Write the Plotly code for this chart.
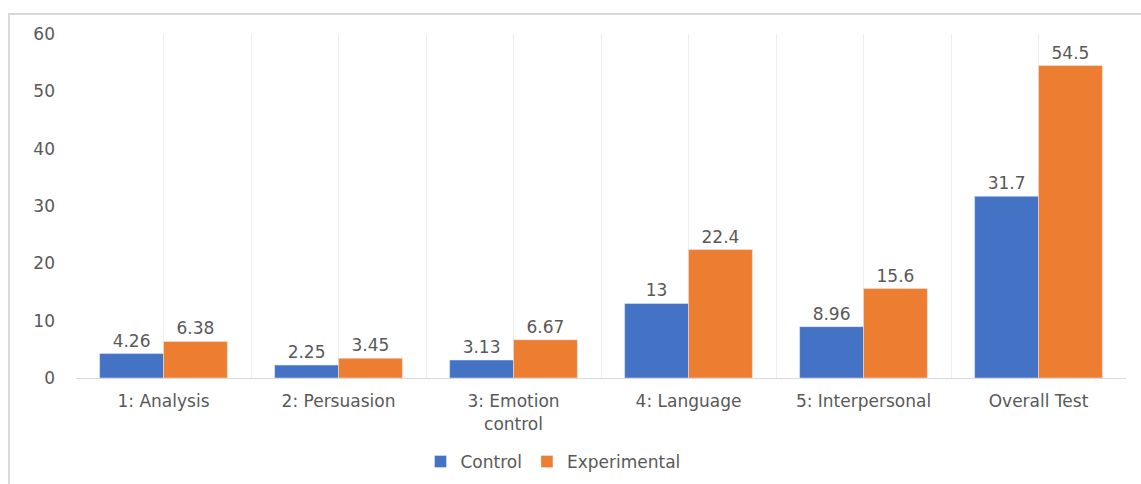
import plotly.graph_objects as go

categories = ["1: Analysis", "2: Persuasion", "3: Emotion<br>control", "4: Language", "5: Interpersonal", "Overall Test"]
control = [4.26, 2.25, 3.13, 13, 8.96, 31.7]
experimental = [6.38, 3.45, 6.67, 22.4, 15.6, 54.5]
control_labels = ["4.26", "2.25", "3.13", "13", "8.96", "31.7"]
experimental_labels = ["6.38", "3.45", "6.67", "22.4", "15.6", "54.5"]
y_ticks = [0, 10, 20, 30, 40, 50, 60]

xpos = list(range(len(categories)))
FONT = "DejaVu Sans"
GREY = "#595959"
FS = 17

fig = go.Figure()
fig.add_trace(go.Bar(x=xpos, y=control, name="Control", marker_color="#4472C4",
                     text=control_labels, textposition="outside", cliponaxis=False,
                     textfont=dict(color=GREY, size=FS, family=FONT)))
fig.add_trace(go.Bar(x=xpos, y=experimental, name="Experimental", marker_color="#ED7D31",
                     text=experimental_labels, textposition="outside", cliponaxis=False,
                     textfont=dict(color=GREY, size=FS, family=FONT)))

L, R, T, B = 76, 15, 34, 106
W, H = 1141, 484
pw = W - L - R
ph = H - T - B

fig.update_layout(
    width=W, height=H,
    margin=dict(l=L, r=R, t=T, b=B, autoexpand=False),
    paper_bgcolor="white", plot_bgcolor="white",
    barmode="group", bargap=0.27, bargroupgap=0,
    font=dict(family=FONT, color=GREY, size=FS),
    showlegend=True,
    legend=dict(orientation="h", x=(553 - L) / pw, xanchor="center",
                y=(H - B - 462) / ph, yanchor="middle",
                font=dict(size=FS, color=GREY, family=FONT), traceorder="normal"),
    xaxis=dict(tickmode="array", tickvals=xpos, ticktext=categories,
               range=[-0.5, len(categories) - 0.5], showgrid=True, gridcolor="#EEEEEE",
               gridwidth=1, zeroline=False, showline=True, linecolor="#D9D9D9",
               ticks="", ticklabelstandoff=8, tickfont=dict(size=FS, color=GREY, family=FONT),
               minor=dict(tickvals=[i - 0.5 for i in range(len(categories) + 1)],
                          showgrid=True, gridcolor="#EEEEEE", gridwidth=1, ticks="")),
    yaxis=dict(range=[0, 60], tickvals=y_ticks, showgrid=False, zeroline=False,
               showline=False, ticks="", ticklabelstandoff=20,
               tickfont=dict(size=FS, color=GREY, family=FONT)),
)

# outer chart border
fig.add_shape(type="rect", xref="paper", yref="paper",
              x0=(9 - L) / pw, x1=(W + 20 - L) / pw,
              y0=(H - B - (H + 20)) / ph, y1=(H - B - 14) / ph,
              line=dict(color="#D9D9D9", width=2), fillcolor="rgba(0,0,0,0)", layer="below")

fig.write_html("out.html")
